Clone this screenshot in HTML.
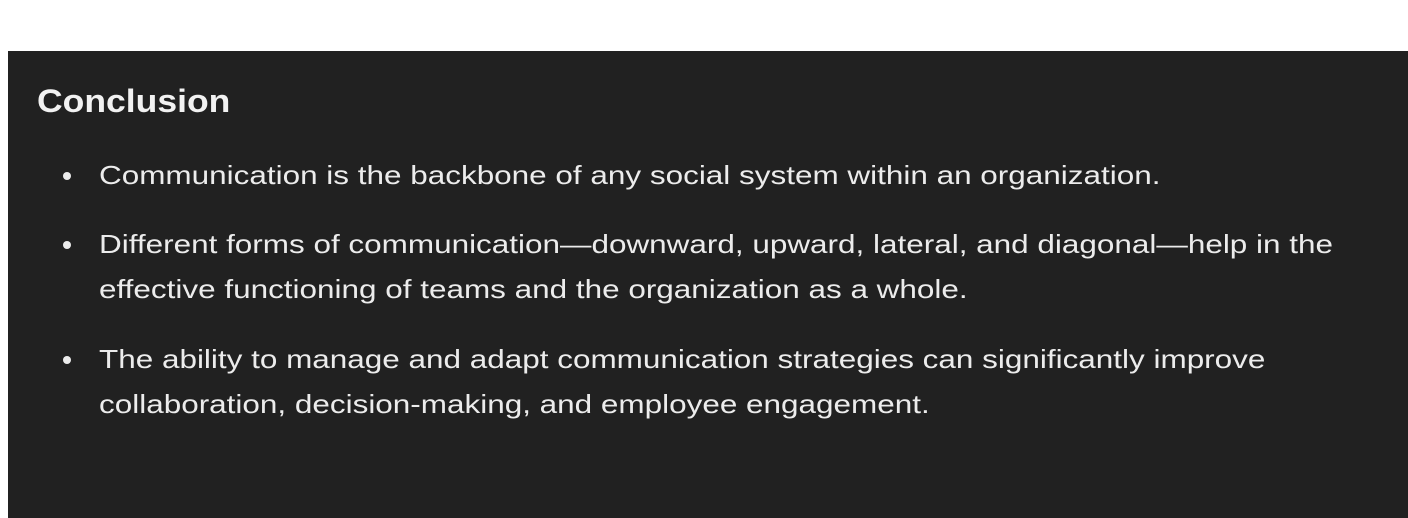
<!DOCTYPE html>
<html><head><meta charset="utf-8"><style>
html,body{margin:0;padding:0;width:1408px;height:518px;background:#fff;overflow:hidden;font-family:"Liberation Sans",sans-serif;}
#panel{position:absolute;left:8px;top:51px;width:1400px;height:467px;background:#212121;}
.t{position:absolute;color:#ececec;white-space:nowrap;font-size:26px;line-height:1;transform:scaleX(1.21);transform-origin:0 50%;}
h2{position:absolute;left:29px;top:34px;margin:0;color:#f2f2f2;font-size:32px;font-weight:bold;line-height:1;transform:scaleX(1.11);transform-origin:0 50%;}
.dot{position:absolute;width:8px;height:8px;border-radius:50%;background:#ececec;}
</style></head><body>
<div id="panel">
<h2>Conclusion</h2>
<div class="dot" style="left:55px;top:121px"></div>
<div class="t" style="left:91px;top:111px">Communication is the backbone of any social system within an organization.</div>
<div class="dot" style="left:55px;top:190px"></div>
<div class="t" style="left:91px;top:180px">Different forms of communication—downward, upward, lateral, and diagonal—help in the</div>
<div class="t" style="left:91px;top:225px">effective functioning of teams and the organization as a whole.</div>
<div class="dot" style="left:55px;top:305px"></div>
<div class="t" style="left:91px;top:295px">The ability to manage and adapt communication strategies can significantly improve</div>
<div class="t" style="left:91px;top:340px">collaboration, decision-making, and employee engagement.</div>
</div>
</body></html>
